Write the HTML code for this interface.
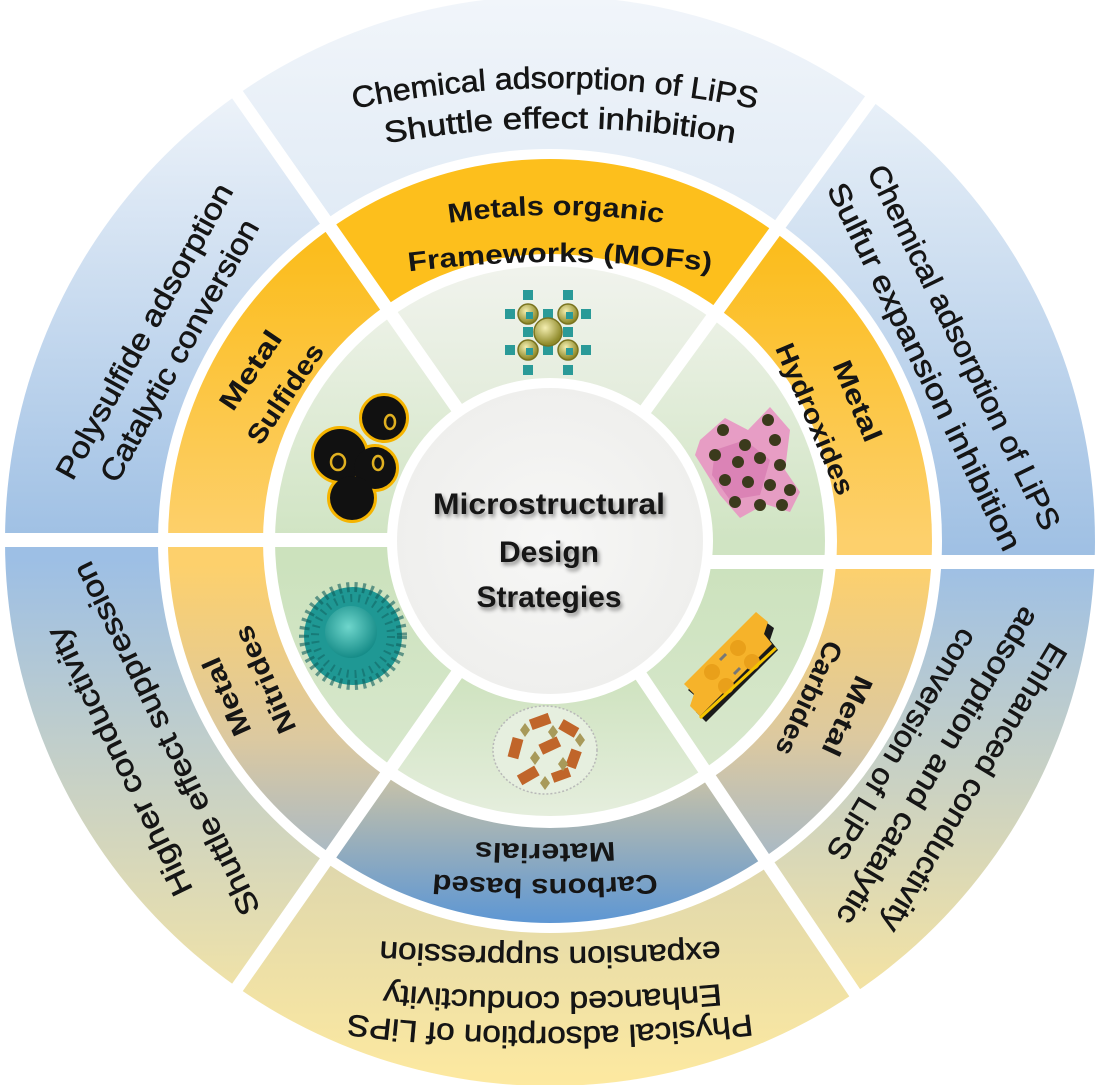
<!DOCTYPE html>
<html><head><meta charset="utf-8"><style>
html,body{margin:0;padding:0;background:#fff;}
svg{display:block;}
text{font-family:"Liberation Sans",sans-serif;fill:#151515;}
.o{font-size:30px;stroke:#151515;stroke-width:0.6;}
.i{font-size:27px;font-weight:bold;}
</style></head><body>
<svg width="1102" height="1085" viewBox="0 0 1102 1085" xmlns="http://www.w3.org/2000/svg">
<defs>
<clipPath id="cTop"><polygon points="550,541 148.5,-32.4 961.5,-25.3"/></clipPath>
<clipPath id="cRT"><polygon points="550,541 961.5,-25.3 1200,-25 1200,562 550,562"/></clipPath>
<clipPath id="cRB"><polygon points="550,562 1200,562 1200,1200 941.4,1121.3 550,541"/></clipPath>
<clipPath id="cBot"><polygon points="550,541 941.4,1121.3 148.5,1114.4"/></clipPath>
<clipPath id="cLB"><polygon points="550,541 148.5,1114.4 -100,1114 -100,540 550,540"/></clipPath>
<clipPath id="cLT"><polygon points="550,540 -100,540 -100,-32 148.5,-32.4 550,541"/></clipPath>

<linearGradient id="oLT" gradientUnits="userSpaceOnUse" x1="0" y1="100" x2="0" y2="540"><stop offset="0" stop-color="#ecf2f9"/><stop offset="1" stop-color="#9fc0e4"/></linearGradient>
<linearGradient id="oTop" gradientUnits="userSpaceOnUse" x1="0" y1="0" x2="0" y2="390"><stop offset="0" stop-color="#f1f5fa"/><stop offset="1" stop-color="#d4e3f2"/></linearGradient>
<linearGradient id="oRT" gradientUnits="userSpaceOnUse" x1="0" y1="100" x2="0" y2="560"><stop offset="0" stop-color="#e8f0f8"/><stop offset="1" stop-color="#9ebfe3"/></linearGradient>
<linearGradient id="oRB" gradientUnits="userSpaceOnUse" x1="0" y1="570" x2="0" y2="980"><stop offset="0" stop-color="#9fc0e4"/><stop offset="1" stop-color="#f2e2a4"/></linearGradient>
<linearGradient id="oBot" gradientUnits="userSpaceOnUse" x1="0" y1="870" x2="0" y2="1085"><stop offset="0" stop-color="#e0d8ac"/><stop offset="1" stop-color="#fde9a0"/></linearGradient>
<linearGradient id="oLB" gradientUnits="userSpaceOnUse" x1="0" y1="560" x2="0" y2="1000"><stop offset="0" stop-color="#9dbfe5"/><stop offset="1" stop-color="#f2e3a6"/></linearGradient>

<linearGradient id="mSide" gradientUnits="userSpaceOnUse" x1="0" y1="250" x2="0" y2="540"><stop offset="0" stop-color="#fbbd1e"/><stop offset="1" stop-color="#fdd06c"/></linearGradient>
<linearGradient id="mLow" gradientUnits="userSpaceOnUse" x1="0" y1="565" x2="0" y2="880"><stop offset="0" stop-color="#fdd06c"/><stop offset="0.55" stop-color="#dcc9a0"/><stop offset="1" stop-color="#9fb6cc"/></linearGradient>
<linearGradient id="mBot" gradientUnits="userSpaceOnUse" x1="0" y1="770" x2="0" y2="925"><stop offset="0" stop-color="#cdc4a6"/><stop offset="1" stop-color="#5c96d4"/></linearGradient>

<linearGradient id="gTop" gradientUnits="userSpaceOnUse" x1="0" y1="270" x2="0" y2="430"><stop offset="0" stop-color="#f0f3ec"/><stop offset="1" stop-color="#e1ebd9"/></linearGradient>
<linearGradient id="gSide" gradientUnits="userSpaceOnUse" x1="0" y1="320" x2="0" y2="540"><stop offset="0" stop-color="#ebf1e5"/><stop offset="1" stop-color="#d0e4c3"/></linearGradient>
<linearGradient id="gLow" gradientUnits="userSpaceOnUse" x1="0" y1="565" x2="0" y2="780"><stop offset="0" stop-color="#cce2bd"/><stop offset="1" stop-color="#d9e8ce"/></linearGradient>
<linearGradient id="gBot" gradientUnits="userSpaceOnUse" x1="0" y1="680" x2="0" y2="815"><stop offset="0" stop-color="#cfe3c0"/><stop offset="1" stop-color="#e5eedd"/></linearGradient>

<radialGradient id="cen" cx="0.5" cy="0.5" r="0.5"><stop offset="0" stop-color="#f7f7f6"/><stop offset="1" stop-color="#efefed"/></radialGradient>
<radialGradient id="ball" cx="0.4" cy="0.35" r="0.6"><stop offset="0" stop-color="#f4eeb0"/><stop offset="1" stop-color="#8f8a2a"/></radialGradient>
<radialGradient id="teal" cx="0.45" cy="0.4" r="0.6"><stop offset="0" stop-color="#6fd6cc"/><stop offset="1" stop-color="#168c88"/></radialGradient>
<filter id="sh" x="-10%" y="-20%" width="120%" height="150%"><feGaussianBlur in="SourceAlpha" stdDeviation="2"/><feOffset dx="2" dy="3"/><feComponentTransfer><feFuncA type="linear" slope="0.45"/></feComponentTransfer><feMerge><feMergeNode/><feMergeNode in="SourceGraphic"/></feMerge></filter>

<path id="t1" d="M 330,114 Q 555,62 780,114"/>
<path id="t2" d="M 360,148 Q 560,108 760,148"/>
<path id="m1" d="M 430,226 Q 556,204 682,226"/>
<path id="m2" d="M 390,274 Q 560,250 730,274"/>
<path id="b1" d="M 770,1012 Q 550,1042 330,1012"/>
<path id="b2" d="M 745,982 Q 552,1002 360,982"/>
<path id="b3" d="M 740,940 Q 550,954 360,940"/>
<path id="c1" d="M 680,872 Q 545,886 410,872"/>
<path id="c2" d="M 640,840 Q 545,848 450,840"/>
</defs>

<circle cx="550" cy="541" r="545" fill="url(#oTop)" clip-path="url(#cTop)"/>
<circle cx="550" cy="541" r="545" fill="url(#oRT)" clip-path="url(#cRT)"/>
<circle cx="550" cy="541" r="545" fill="url(#oRB)" clip-path="url(#cRB)"/>
<circle cx="550" cy="541" r="545" fill="url(#oBot)" clip-path="url(#cBot)"/>
<circle cx="550" cy="541" r="545" fill="url(#oLB)" clip-path="url(#cLB)"/>
<circle cx="550" cy="541" r="545" fill="url(#oLT)" clip-path="url(#cLT)"/>
<circle cx="550" cy="541" r="392" fill="#fff"/>
<circle cx="550" cy="541" r="382" fill="#fdbf1c" clip-path="url(#cTop)"/>
<circle cx="550" cy="541" r="382" fill="url(#mSide)" clip-path="url(#cRT)"/>
<circle cx="550" cy="541" r="382" fill="url(#mLow)" clip-path="url(#cRB)"/>
<circle cx="550" cy="541" r="382" fill="url(#mBot)" clip-path="url(#cBot)"/>
<circle cx="550" cy="541" r="382" fill="url(#mLow)" clip-path="url(#cLB)"/>
<circle cx="550" cy="541" r="382" fill="url(#mSide)" clip-path="url(#cLT)"/>
<circle cx="550" cy="541" r="287" fill="#fff"/>
<circle cx="550" cy="541" r="275" fill="url(#gTop)" clip-path="url(#cTop)"/>
<circle cx="550" cy="541" r="275" fill="url(#gSide)" clip-path="url(#cRT)"/>
<circle cx="550" cy="541" r="275" fill="url(#gLow)" clip-path="url(#cRB)"/>
<circle cx="550" cy="541" r="275" fill="url(#gBot)" clip-path="url(#cBot)"/>
<circle cx="550" cy="541" r="275" fill="url(#gLow)" clip-path="url(#cLB)"/>
<circle cx="550" cy="541" r="275" fill="url(#gSide)" clip-path="url(#cLT)"/>

<g stroke="#fff" stroke-width="13">
<line x1="550" y1="541" x2="148.5" y2="-32.4"/>
<line x1="550" y1="541" x2="961.5" y2="-25.3"/>
<line x1="550" y1="541" x2="941.4" y2="1121.3"/>
<line x1="550" y1="541" x2="148.5" y2="1114.4"/>
</g>
<rect x="0" y="533" width="552" height="14" fill="#fff"/>
<rect x="548" y="555" width="560" height="14" fill="#fff"/>
<circle cx="550" cy="541" r="163" fill="#fff"/>
<circle cx="550" cy="541" r="153" fill="url(#cen)"/>

<!-- outer texts -->
<text class="o" text-anchor="middle"><textPath href="#t1" startOffset="50%" textLength="405" lengthAdjust="spacingAndGlyphs">Chemical adsorption of LiPS</textPath></text>
<text class="o" text-anchor="middle"><textPath href="#t2" startOffset="50%" textLength="350" lengthAdjust="spacingAndGlyphs">Shuttle effect inhibition</textPath></text>
<g transform="translate(162,341) rotate(-61)" text-anchor="middle" class="o">
<text x="0" y="-10" textLength="333" lengthAdjust="spacingAndGlyphs">Polysulfide  adsorption</text>
<text x="0" y="30" textLength="295" lengthAdjust="spacingAndGlyphs">Catalytic conversion</text>
</g>
<g transform="translate(944,357) rotate(64)" text-anchor="middle" class="o">
<text x="0" y="-12" textLength="402" lengthAdjust="spacingAndGlyphs">Chemical adsorption of LiPS</text>
<text x="0" y="32" textLength="405" lengthAdjust="spacingAndGlyphs">Sulfur expansion inhibition</text>
</g>
<g transform="translate(938,766) rotate(121)" text-anchor="middle" class="o">
<text x="0" y="-32" textLength="331" lengthAdjust="spacingAndGlyphs">Enhanced conductivity</text>
<text x="0" y="10" textLength="364" lengthAdjust="spacingAndGlyphs">adsorption and  catalytic</text>
<text x="0" y="52" textLength="263" lengthAdjust="spacingAndGlyphs">conversion of LiPS</text>
</g>
<g transform="translate(143,750) rotate(-116)" text-anchor="middle" class="o">
<text x="0" y="-16" textLength="295" lengthAdjust="spacingAndGlyphs">Higher conductivity</text>
<text x="0" y="36" textLength="389" lengthAdjust="spacingAndGlyphs">Shuttle effect suppression</text>
</g>
<text class="o" text-anchor="middle"><textPath href="#b1" startOffset="50%" textLength="404" lengthAdjust="spacingAndGlyphs">Physical adsorption of LiPS</textPath></text>
<text class="o" text-anchor="middle"><textPath href="#b2" startOffset="50%" textLength="337" lengthAdjust="spacingAndGlyphs">Enhanced conductivity</textPath></text>
<text class="o" text-anchor="middle"><textPath href="#b3" startOffset="50%" textLength="340" lengthAdjust="spacingAndGlyphs">expansion suppression</textPath></text>

<!-- inner labels -->
<text class="i" text-anchor="middle"><textPath href="#m1" startOffset="50%" textLength="215" lengthAdjust="spacingAndGlyphs">Metals organic</textPath></text>
<text class="i" text-anchor="middle"><textPath href="#m2" startOffset="50%" textLength="303" lengthAdjust="spacingAndGlyphs">Frameworks (MOFs)</textPath></text>
<text class="i" text-anchor="middle"><textPath href="#c1" startOffset="50%" textLength="224" lengthAdjust="spacingAndGlyphs">Carbons based</textPath></text>
<text class="i" text-anchor="middle"><textPath href="#c2" startOffset="50%" textLength="140" lengthAdjust="spacingAndGlyphs">Materials</textPath></text>
<g transform="translate(268,382) rotate(-56)" text-anchor="middle" class="i">
<text x="0" y="-12" textLength="90" lengthAdjust="spacingAndGlyphs">Metal</text><text x="0" y="30" textLength="115" lengthAdjust="spacingAndGlyphs">Sulfides</text>
</g>
<g transform="translate(836,410) rotate(67)" text-anchor="middle" class="i">
<text x="0" y="-14" textLength="86" lengthAdjust="spacingAndGlyphs">Metal</text><text x="0" y="32" textLength="162" lengthAdjust="spacingAndGlyphs">Hydroxides</text>
</g>
<g transform="translate(828,707) rotate(115)" text-anchor="middle" class="i">
<text x="0" y="-12" textLength="85" lengthAdjust="spacingAndGlyphs">Metal</text><text x="0" y="30" textLength="123" lengthAdjust="spacingAndGlyphs">Carbides</text>
</g>
<g transform="translate(246,688) rotate(-114)" text-anchor="middle" class="i">
<text x="0" y="-12" textLength="83" lengthAdjust="spacingAndGlyphs">Metal</text><text x="0" y="30" textLength="115" lengthAdjust="spacingAndGlyphs">Nitrides</text>
</g>

<!-- center text -->
<g filter="url(#sh)" text-anchor="middle" style="font-size:30px;font-weight:bold">
<text x="549" y="514" textLength="232" lengthAdjust="spacingAndGlyphs">Microstructural</text>
<text x="549" y="562">Design</text>
<text x="549" y="607">Strategies</text>
</g>

<!-- MOF icon -->
<g fill="#2a9a98">
<rect x="523" y="290" width="10" height="10"/><rect x="563" y="290" width="10" height="10"/>
<rect x="505" y="309" width="10" height="10"/><rect x="543" y="309" width="10" height="10"/><rect x="581" y="309" width="10" height="10"/>
<rect x="523" y="327" width="10" height="10"/><rect x="563" y="327" width="10" height="10"/>
<rect x="505" y="345" width="10" height="10"/><rect x="543" y="345" width="10" height="10"/><rect x="581" y="345" width="10" height="10"/>
<rect x="523" y="365" width="10" height="10"/><rect x="563" y="365" width="10" height="10"/>
</g>
<g stroke="#7a7420" stroke-width="1.5" fill="url(#ball)">
<circle cx="528" cy="314" r="10"/><circle cx="568" cy="314" r="10"/>
<circle cx="528" cy="350" r="10"/><circle cx="568" cy="350" r="10"/>
<circle cx="548" cy="332" r="14"/>
</g>
<g fill="#2a9a98"><rect x="526" y="312" width="7" height="7"/><rect x="566" y="312" width="7" height="7"/><rect x="526" y="348" width="7" height="7"/><rect x="566" y="348" width="7" height="7"/></g>

<!-- Sulfides icon -->
<g stroke="#f5b400" stroke-width="6" fill="#111">
<circle cx="384" cy="418" r="22"/>
<circle cx="340" cy="455" r="26"/>
<circle cx="375" cy="468" r="21"/>
<circle cx="352" cy="498" r="22"/>
</g>
<g fill="#111"><circle cx="384" cy="418" r="22"/><circle cx="340" cy="455" r="26"/><circle cx="375" cy="468" r="21"/><circle cx="352" cy="498" r="22"/></g>
<g fill="none" stroke="#e0b020" stroke-width="2.5"><ellipse cx="390" cy="422" rx="5" ry="7"/><ellipse cx="378" cy="463" rx="5" ry="7"/><ellipse cx="338" cy="462" rx="7" ry="8"/></g>

<!-- Hydroxides icon -->
<polygon points="700,440 725,418 748,430 770,407 790,430 785,470 800,492 790,512 765,504 740,518 720,495 695,455" fill="#e98fc2" opacity="0.85"/>
<polygon points="715,450 745,440 770,460 760,495 730,500 712,475" fill="#d06aa8" opacity="0.5"/>
<g fill="#3b3a1c">
<circle cx="723" cy="430" r="6"/><circle cx="745" cy="445" r="6"/><circle cx="768" cy="420" r="6"/><circle cx="775" cy="440" r="6"/>
<circle cx="715" cy="455" r="6"/><circle cx="738" cy="462" r="6"/><circle cx="760" cy="458" r="6"/><circle cx="780" cy="465" r="6"/>
<circle cx="725" cy="480" r="6"/><circle cx="748" cy="482" r="6"/><circle cx="770" cy="485" r="6"/><circle cx="790" cy="490" r="6"/>
<circle cx="735" cy="502" r="6"/><circle cx="760" cy="505" r="6"/><circle cx="782" cy="505" r="6"/>
</g>

<!-- Nitrides icon -->
<circle cx="353" cy="636" r="49" fill="#1f9894"/>
<circle cx="353" cy="636" r="49" fill="none" stroke="#0f5e5c" stroke-width="10" stroke-dasharray="3 5" opacity="0.6"/>
<circle cx="353" cy="636" r="38" fill="none" stroke="#0f5e5c" stroke-width="8" stroke-dasharray="2 6" opacity="0.5"/>
<circle cx="351" cy="632" r="26" fill="url(#teal)"/>

<!-- Carbides icon -->
<polygon points="688,690 760,618 774,628 770,640 778,650 706,722 696,712 700,700" fill="#1a1a1a"/>
<polygon points="684,684 756,612 768,622 764,634 772,644 700,716 690,706 694,694" fill="#f6b32a"/>
<g fill="#e9a01a"><circle cx="712" cy="672" r="8"/><circle cx="738" cy="648" r="8"/><circle cx="726" cy="686" r="8"/><circle cx="752" cy="662" r="8"/></g>
<g stroke="#777" stroke-width="3"><line x1="720" y1="660" x2="726" y2="654"/><line x1="734" y1="674" x2="740" y2="668"/></g>
<line x1="700" y1="718" x2="776" y2="648" stroke="#f5c400" stroke-width="3"/>

<!-- Carbons icon -->
<g transform="translate(0,78)">
<ellipse cx="545" cy="672" rx="52" ry="44" fill="#e6efdf" stroke="#b8b8b8" stroke-width="1.5" stroke-dasharray="2 2"/>
<g fill="#c0652a">
<rect x="530" y="638" width="20" height="11" transform="rotate(-20 540 643)"/>
<rect x="560" y="645" width="18" height="11" transform="rotate(30 569 650)"/>
<rect x="510" y="660" width="11" height="20" transform="rotate(15 515 670)"/>
<rect x="540" y="662" width="20" height="11" transform="rotate(-25 550 668)"/>
<rect x="568" y="672" width="11" height="18" transform="rotate(20 574 681)"/>
<rect x="518" y="692" width="20" height="11" transform="rotate(-30 528 697)"/>
<rect x="552" y="692" width="18" height="10" transform="rotate(-20 561 697)"/>
</g>
<g fill="#a89a5a">
<polygon points="520,652 525,645 530,652 525,659"/><polygon points="548,654 553,647 558,654 553,661"/>
<polygon points="530,680 535,673 540,680 535,687"/><polygon points="558,686 563,679 568,686 563,693"/>
<polygon points="540,705 545,698 550,705 545,712"/><polygon points="575,662 580,655 585,662 580,669"/>
</g>
</g>
</svg>
</body></html>
